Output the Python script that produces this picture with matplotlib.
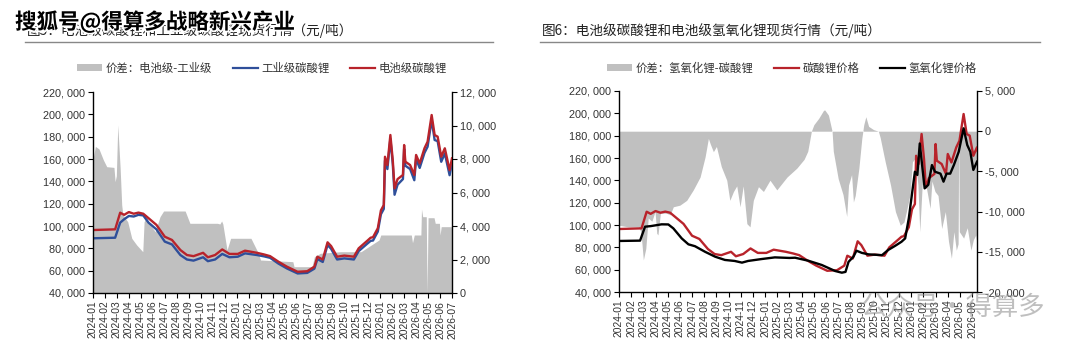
import matplotlib
matplotlib.use("Agg")
import matplotlib.pyplot as plt
from matplotlib.lines import Line2D
from matplotlib.patches import Patch
import matplotlib.patheffects as pe

plt.rcParams['font.family'] = ['Noto Sans CJK SC', 'DejaVu Sans']

# ---------------- data (x = months since 2024-01) ----------------
month_labels = [f"{y}-{m:02d}" for y in (2024, 2025, 2026) for m in range(1, 13)]
left_labels = month_labels[:31]     # 2024-01 .. 2026-07
right_labels = month_labels[:30]    # 2024-01 .. 2026-06

# battery-grade lithium carbonate (yuan/t)
bat_x = [0, 1.85, 2.27, 2.6, 3.0, 3.4, 3.8, 4.2, 4.64, 5.3, 6.0, 6.6, 7.3, 7.85, 8.4, 9.2, 9.6,
         10.2, 10.8, 11.4, 12.1, 12.7, 13.7, 14.3, 14.8, 15.5, 16.2, 17.1, 17.9, 18.5, 18.75, 19.2,
         19.6, 19.9, 20.4, 21.0, 21.8, 22.2, 22.9, 23.2, 23.4, 23.8, 24.06, 24.3, 24.4, 24.6, 24.85,
         25.05, 25.2, 25.45, 25.9, 26.0, 26.1, 26.5, 26.85, 27.0, 27.3, 27.7, 27.96, 28.3, 28.55,
         28.8, 29.1, 29.4, 29.8, 30.0]
bat_v = [96400, 97000, 111900, 110000, 112500, 111000, 112000, 111000, 107000, 101000, 90400,
         87500, 78500, 74000, 73000, 76000, 72000, 74000, 79000, 75000, 75000, 77900, 76000,
         74500, 73000, 68000, 63600, 59000, 59500, 63600, 72500, 70000, 85400, 82000, 72500,
         73500, 72500, 80000, 86600, 89500, 90000, 98000, 114000, 118800, 162000, 154600, 181500,
         159000, 133700, 142000, 145700, 172500, 157600, 154600, 145700, 163600, 156000, 169600,
         175500, 199400, 181500, 180000, 162000, 169600, 150000, 160600]

# industrial-grade lithium carbonate (yuan/t)
ind_x = bat_x
ind_v = [89000, 89500, 103000, 106000, 109000, 108500, 110000, 109500, 103000, 97000, 86000,
         83500, 74000, 70000, 69000, 72000, 68500, 70000, 75000, 72000, 72500, 75500, 74000,
         72800, 71500, 66300, 62000, 57500, 58000, 61800, 70400, 67800, 83000, 79500, 70000,
         71000, 70000, 77500, 84000, 86700, 87000, 95000, 110500, 115300, 158500, 151000, 178000,
         155500, 128000, 137000, 142000, 169000, 154000, 151000, 141000, 160000, 152000, 165500,
         171000, 195000, 177000, 176000, 157500, 165000, 145500, 156500]

# spread: battery - industrial (right axis)
sp1_x = [0, 0.2, 0.5, 0.87, 1.15, 1.75, 1.85, 1.95, 2.07, 2.27, 2.4, 2.5, 2.9, 3.24, 3.65, 4.16,
         4.27, 4.5, 4.6, 5.2, 5.6, 5.9, 7.7, 8.1, 10.4, 10.6, 10.75, 10.85, 11.2, 11.5, 13.2, 13.8,
         14.0, 16.7, 16.8, 18.3, 18.5, 19.0, 20.7, 22.4, 23.9, 24.05, 26.6, 26.7, 26.85, 27.4,
         27.45, 27.55, 27.85, 27.92, 28.0, 28.5, 28.6, 28.95, 29.0, 29.1, 30.0]
sp1_v = [8000, 8750, 8600, 7940, 7540, 7500, 6650, 7000, 10030, 7445, 5254, 4657, 4257, 3266, 2866,
         2467, 4257, 4555, 4257, 3660, 4555, 4895, 4895, 4161, 4161, 4120, 4300, 4120, 2567, 3266,
         3266, 2400, 1970, 1870, 1570, 1570, 2167, 2370, 2466, 2466, 3164, 3463, 3463, 3000, 3463,
         3463, 5015, 4555, 4555, 0, 4495, 4495, 4160, 4160, 3463, 3960, 3960]

# battery-grade lithium hydroxide (yuan/t)
hyd_x = [0, 1.73, 2.14, 2.6, 3.5, 4.05, 4.46, 5.15, 5.7, 6.24, 7.07, 7.9, 8.7, 9.5, 10.1, 10.6,
         11.7, 12.8, 14.0, 14.46, 15.55, 16.65, 17.75, 18.3, 18.6, 18.85, 19.25, 19.5, 19.95, 20.5,
         21.6, 22.1, 22.7, 23.2, 23.5, 23.8, 24.05, 24.3, 24.5, 24.7, 25.1, 25.4, 25.7, 25.95, 26.4,
         26.65, 26.9, 27.2, 27.5, 27.9, 28.3, 28.6, 28.85, 29.1, 29.4]
hyd_v = [85700, 86000, 98500, 99000, 100600, 100500, 97000, 88000, 82700, 81000, 76000, 71600,
         68700, 67800, 66300, 67800, 69500, 71000, 70500, 70700, 68000, 64200, 58800, 57300, 58000,
         67000, 71600, 77000, 75000, 73700, 73000, 77600, 81500, 85000, 88000, 106000, 126900,
         147700, 144800, 173000, 132800, 136000, 153700, 147700, 146000, 138800, 146000, 146000,
         153700, 165600, 186600, 171600, 165600, 149300, 156700]

# spread: hydroxide - carbonate (right axis)
sp2_x = [0, 0.77, 1.6, 1.8, 2.0, 2.2, 2.4, 2.7, 2.96, 3.1, 3.2, 3.4, 3.9, 4.2, 4.46, 5.0, 5.56,
         6.1, 6.66, 7.07, 7.34, 7.5, 7.75, 8.0, 8.4, 8.85, 9.1, 9.4, 9.67, 9.94, 10.2, 10.5, 10.76,
         11.03, 11.45, 11.86, 12.4, 12.96, 13.8, 14.6, 15.2, 15.5, 15.8, 16.0, 16.4, 16.8, 16.9,
         17.2, 17.5, 17.6, 18.0, 18.4, 18.7, 18.85, 19.1, 19.25, 19.4, 19.7, 19.94, 20.1, 20.27,
         20.5, 20.9, 21.3, 21.45, 21.86, 22.3, 22.7, 23.1, 23.4, 23.6, 23.9, 24.1, 24.3, 24.55,
         24.7, 24.9, 25.1, 25.3, 25.55, 25.7, 25.95, 26.2, 26.5, 26.8, 27.06, 27.3, 27.5, 27.7,
         27.85, 27.9, 27.95, 28.3, 28.6, 28.9, 29.1, 29.3, 29.4]
sp2_v = [-11700, -11900, -11900, -12500, -16000, -14600, -10800, -11200, -10000, -12700, -12900,
         -10200, -10200, -10400, -9400, -9200, -8600, -7300, -5700, -3200, -900, -1600, -2550,
         -1900, -4400, -6100, -8600, -7500, -6800, -9400, -6800, -11500, -11900, -8600, -6900,
         -7500, -6100, -7300, -5700, -4600, -3500, -2500, 0, 800, 1600, 2600, 2640, 2000, 0,
         -2500, -5900, -7900, -10600, -6700, -5400, -8800, -8000, -4600, -900, 800, 1800, 600,
         200, 0, -800, -3800, -6700, -10000, -11700, -11300, -10000, -7900, -3800, -3400, -6700,
         -12500, -6700, -5900, -7500, -9600, -6200, -7500, -8000, -12100, -10000, -13700, -15800,
         -12500, -14800, -14000, 0, -12500, -13300, -12000, -14800, -13500, -12900, -14000]

# ---------------- styling ----------------
RED = '#b8232b'
BLUE = '#2f4f9a'
BLACK = '#000000'
GRAY = '#c0c0c0'
TICK_FONT = ['Liberation Sans', 'DejaVu Sans']


def fmt(v):
    return f"{int(v):,}".replace(",", ", ")


fig = plt.figure(figsize=(10.8, 3.55), dpi=100)

ax1 = fig.add_axes([93 / 1080, 1 - 293 / 355, (452 - 93) / 1080, 201 / 355])
ax1t = ax1.twinx()
ax2 = fig.add_axes([619 / 1080, 1 - 292 / 355, (977 - 619) / 1080, 201 / 355])
ax2t = ax2.twinx()

# left chart
ax1t.fill_between(sp1_x, 0, sp1_v, color=GRAY, lw=0)
ax1.plot(ind_x, ind_v, color=BLUE, lw=1.7)
ax1.plot(bat_x, bat_v, color=RED, lw=1.7)
ax1.set_xlim(0, 30)
ax1.set_ylim(40000, 220000)
ax1t.set_ylim(0, 12000)
ax1.set_yticks(range(40000, 220001, 20000))
ax1t.set_yticks(range(0, 12001, 2000))
ax1.set_xticks(range(len(left_labels)))
ax1.set_xticklabels(left_labels)

# right chart
ax2t.fill_between(sp2_x, 0, sp2_v, color=GRAY, lw=0)
ax2.plot(bat_x, bat_v, color=RED, lw=1.7)
ax2.plot(hyd_x, hyd_v, color=BLACK, lw=1.7)
ax2.set_xlim(0, 29.4)
ax2.set_ylim(40000, 220000)
ax2t.set_ylim(-20000, 5000)
ax2.set_yticks(range(40000, 220001, 20000))
ax2t.set_yticks(range(-20000, 5001, 5000))
ax2.set_xticks(range(len(right_labels)))
ax2.set_xticklabels(right_labels)

for a, t in ((ax1, ax1t), (ax2, ax2t)):
    a.set_zorder(t.get_zorder() + 1)
    a.patch.set_visible(False)
    a.spines['top'].set_visible(False)
    t.spines['top'].set_visible(False)
    t.spines['left'].set_visible(False)
    t.spines['bottom'].set_visible(False)
    a.spines['right'].set_visible(False)
    for sp in (a.spines['left'], a.spines['bottom'], t.spines['right']):
        sp.set_color('black')
        sp.set_linewidth(1.0)
    a.set_yticklabels([fmt(v) for v in a.get_yticks()], fontfamily=TICK_FONT, fontsize=7.8,
                      color='#333333')
    t.set_yticklabels([fmt(v) for v in t.get_yticks()], fontfamily=TICK_FONT, fontsize=7.8,
                      color='#333333')
    for lab in a.get_xticklabels():
        lab.set_rotation(90)
        lab.set_fontfamily(TICK_FONT)
        lab.set_fontsize(7.4)
        lab.set_color('#333333')
    a.tick_params(axis='both', direction='out', length=3.5, width=0.8, pad=2)
    t.tick_params(axis='y', direction='out', length=3.5, width=0.8, pad=2)

# legends
h1 = [Patch(facecolor=GRAY, edgecolor='none', label='价差：电池级-工业级'),
      Line2D([], [], color=BLUE, lw=1.6, label='工业级碳酸锂'),
      Line2D([], [], color=RED, lw=1.6, label='电池级碳酸锂')]
fig.legend(handles=h1, loc='center', bbox_to_anchor=(262 / 1080, 1 - 68 / 355), ncol=3,
           frameon=False, fontsize=8.2, handlelength=2.2, handleheight=0.6,
           columnspacing=1.8, handletextpad=0.3, labelcolor='#333333')
h2 = [Patch(facecolor=GRAY, edgecolor='none', label='价差：氢氧化锂-碳酸锂'),
      Line2D([], [], color=RED, lw=1.6, label='碳酸锂价格'),
      Line2D([], [], color=BLACK, lw=1.6, label='氢氧化锂价格')]
fig.legend(handles=h2, loc='center', bbox_to_anchor=(792 / 1080, 1 - 68 / 355), ncol=3,
           frameon=False, fontsize=8.2, handlelength=2.2, handleheight=0.6,
           columnspacing=1.8, handletextpad=0.3, labelcolor='#333333')

# titles and underlines
fig.text(27 / 1080, 1 - 31 / 355, '图5：电池级碳酸锂和工业级碳酸锂现货行情（元/吨）', fontsize=9.8,
         color='#222222', va='center', ha='left')
fig.text(542 / 1080, 1 - 31 / 355, '图6：电池级碳酸锂和电池级氢氧化锂现货行情（元/吨）', fontsize=9.8,
         color='#222222', va='center', ha='left')
fig.add_artist(Line2D([25 / 1080, 493 / 1080], [1 - 42 / 355, 1 - 42 / 355],
                      transform=fig.transFigure, color='#888888', lw=1.0))
fig.add_artist(Line2D([540 / 1080, 1040 / 1080], [1 - 42 / 355, 1 - 42 / 355],
                      transform=fig.transFigure, color='#888888', lw=1.0))

# watermarks
fig.text(15 / 1080, 1 - 22 / 355, '搜狐号@得算多战略新兴产业', fontsize=15.5, fontweight='bold',
         color='black', va='center', ha='left',
         path_effects=[pe.withStroke(linewidth=2.5, foreground='white')])
fig.text(1045 / 1080, 1 - 307 / 355, '公众号·得算多', fontsize=19, color='#8c8c8c', alpha=0.55,
         va='center', ha='right')

fig.savefig('out.png', dpi=100)
